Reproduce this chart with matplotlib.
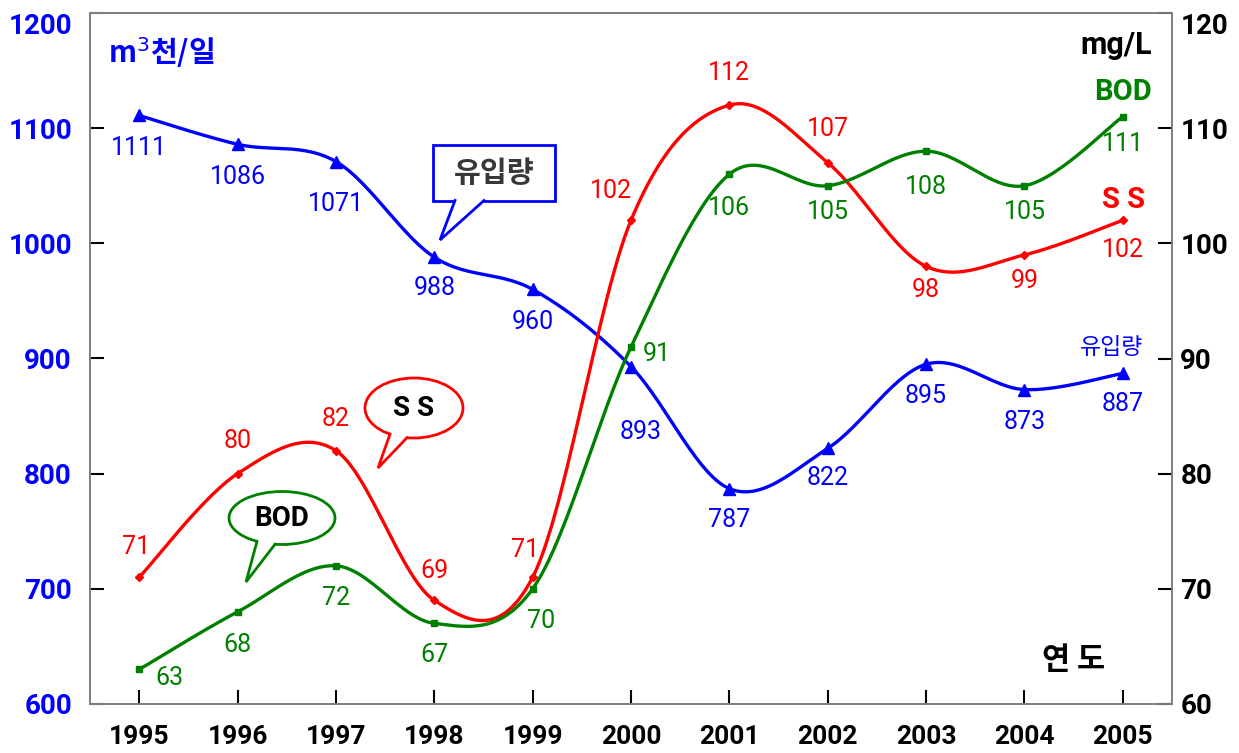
import numpy as np
import matplotlib
matplotlib.use("Agg")
import matplotlib.pyplot as plt
from matplotlib.patches import Ellipse, Polygon, Rectangle

years = ["1995", "1996", "1997", "1998", "1999", "2000", "2001", "2002", "2003", "2004", "2005"]
inflow = [1111, 1086, 1071, 988, 960, 893, 787, 822, 895, 873, 887]
ss = [71, 80, 82, 69, 71, 102, 112, 107, 98, 99, 102]
bod = [63, 68, 72, 67, 70, 91, 106, 105, 108, 105, 111]

# label offsets in pixels (dx, dy)
inflow_off = [(0, -33), (0, -33), (0, -42), (0, -31), (0, -33), (10, -65), (0, -31), (0, -30), (0, -32), (0, -32), (0, -31)]
ss_off = [(-3, 30), (0, 33), (0, 32), (0, 29), (-8, 27), (-20, 29), (0, 32), (0, 34), (0, -24), (0, -26), (0, -30)]
bod_off = [(30, -9), (0, -33), (0, -32), (0, -32), (8, -32), (26, -7), (0, -34), (0, -26), (0, -36), (0, -26), (0, -27)]

NUM = ["Liberation Sans Narrow", "Roboto", "DejaVu Sans"]
KR = ["Noto Sans CJK KR", "DejaVu Sans"]
BLUE, RED, GREEN = "#0000ff", "#ff0000", "#008000"

W, H = 1239, 753


def smooth(y, n=30):
    # Excel-style smoothed line (Catmull-Rom Bezier)
    y = np.asarray(y, float)
    x = np.arange(len(y), dtype=float)
    xs, ys = [], []
    for i in range(len(y) - 1):
        i0, i3 = max(i - 1, 0), min(i + 2, len(y) - 1)
        p0 = np.array([x[i], y[i]])
        p3 = np.array([x[i + 1], y[i + 1]])
        c1 = p0 + (np.array([x[i + 1], y[i + 1]]) - np.array([x[i0], y[i0]])) / 6
        c2 = p3 - (np.array([x[i3], y[i3]]) - np.array([x[i], y[i]])) / 6
        t = np.linspace(0, 1, n)[:, None]
        pts = (1 - t) ** 3 * p0 + 3 * (1 - t) ** 2 * t * c1 + 3 * (1 - t) * t ** 2 * c2 + t ** 3 * p3
        xs.append(pts[:, 0]); ys.append(pts[:, 1])
    return np.concatenate(xs), np.concatenate(ys)


def fp(x, y):
    return (x / W, 1 - y / H)


fig = plt.figure(figsize=(W / 100, H / 100), dpi=100)
ax = fig.add_axes([90 / W, 1 - 704 / H, (1172 - 90) / W, (704 - 13) / H])
ax2 = ax.twinx()

idx = np.arange(len(years))

sx, sy = smooth(inflow)
ax.plot(sx, sy, color=BLUE, lw=2.4, zorder=3)
ax.plot(idx, inflow, "^", color=BLUE, ms=9, zorder=4)

sx, sy = smooth(ss)
ax2.plot(sx, sy, color=RED, lw=2.4, zorder=3)
ax2.plot(idx, ss, "D", color=RED, ms=4, zorder=4)

sx, sy = smooth(bod)
ax2.plot(sx, sy, color=GREEN, lw=2.4, zorder=3)
ax2.plot(idx, bod, "s", color=GREEN, ms=5, zorder=4)

for i, v in enumerate(inflow):
    ax.annotate(str(v), (i, v), xytext=inflow_off[i], textcoords="offset pixels",
                ha="center", va="center", color=BLUE, fontsize=18, family=NUM)
for i, v in enumerate(ss):
    ax2.annotate(str(v), (i, v), xytext=ss_off[i], textcoords="offset pixels",
                 ha="center", va="center", color=RED, fontsize=18, family=NUM)
for i, v in enumerate(bod):
    ax2.annotate(str(v), (i, v), xytext=bod_off[i], textcoords="offset pixels",
                 ha="center", va="center", color=GREEN, fontsize=18, family=NUM)

ax.set_xlim(-0.5, 10.5)
ax.set_ylim(600, 1200)
ax2.set_ylim(60, 120)
ax.set_xticks(idx)
ax.set_xticklabels(years)
ax.set_yticks(range(600, 1201, 100))
ax2.set_yticks(range(60, 121, 10))

ax.tick_params(axis="x", direction="in", length=10, width=1.5, pad=15, labelsize=19)
ax.tick_params(axis="y", direction="in", length=10, width=1.5, pad=13, labelsize=20, labelcolor=BLUE)
ax2.tick_params(axis="y", direction="in", length=10, width=1.5, pad=6, labelsize=20)
for lab in ax.get_xticklabels() + ax.get_yticklabels() + ax2.get_yticklabels():
    lab.set_family(NUM)
    lab.set_fontweight("bold")
ax.get_yticklabels()[-1].set_va("top")
ax2.get_yticklabels()[-1].set_va("top")
for a in (ax, ax2):
    for s in a.spines.values():
        s.set_color("#808080")
        s.set_linewidth(1.3)

# unit labels
fig.text(*fp(108, 53), "m$^3$천/일", color=BLUE, fontsize=21, fontweight="bold",
         family=KR, ha="left", va="center")
fig.text(*fp(1152, 45), "mg/L", color="black", fontsize=22, fontweight="bold",
         family=NUM, ha="right", va="center")
fig.text(*fp(1074, 660), "연 도", color="black", fontsize=22, fontweight="bold",
         family=KR, ha="center", va="center")

# series names at right
fig.text(*fp(1123, 92), "BOD", color=GREEN, fontsize=21, fontweight="bold", family=NUM, ha="center", va="center")
fig.text(*fp(1123, 200), "S S", color=RED, fontsize=21, fontweight="bold", family=NUM, ha="center", va="center")
fig.text(*fp(1112, 348), "유입량", color=BLUE, fontsize=16.5, family=KR, ha="center", va="center")


# callout bubbles
def bubble(cx, cy, w, h, bx1, bx2, tip, color, text, rect=False, txtcolor="black",
           fam=NUM, weight="bold", size=21):
    if rect:
        shape = Rectangle(fp(cx - w / 2, cy + h / 2), w / W, h / H, transform=fig.transFigure,
                          facecolor="white", edgecolor=color, lw=2, zorder=5)
        y1 = y2 = cy + h / 2
    else:
        shape = Ellipse(fp(cx, cy), w / W, h / H, transform=fig.transFigure,
                        facecolor="white", edgecolor=color, lw=2, zorder=5)
        a, b = w / 2, h / 2
        y1 = cy + b * np.sqrt(1 - ((bx1 - cx) / a) ** 2)
        y2 = cy + b * np.sqrt(1 - ((bx2 - cx) / a) ** 2)
    fig.add_artist(shape)
    b1, b2 = (bx1, y1), (bx2, y2)
    fig.add_artist(Polygon([fp(bx1 + 1, y1 - 5), fp(*b1), fp(*tip), fp(*b2), fp(bx2 - 1, y2 - 5)],
                           closed=True, transform=fig.transFigure,
                           facecolor="white", edgecolor="none", zorder=6))
    fig.add_artist(plt.Line2D([fp(*b1)[0], fp(*tip)[0], fp(*b2)[0]],
                              [fp(*b1)[1], fp(*tip)[1], fp(*b2)[1]],
                              transform=fig.transFigure, color=color, lw=2, zorder=7,
                              solid_joinstyle="miter"))
    fig.text(*fp(cx, cy), text, color=txtcolor, fontsize=size, fontweight=weight,
             family=fam, ha="center", va="center", zorder=8)


bubble(494, 173, 122, 55, 455, 484, (440, 240), BLUE, "유입량", rect=True,
       txtcolor="#383838", fam=KR, weight="bold", size=21)
bubble(414, 408, 98, 60, 390, 407, (378, 468), RED, "S S", size=20)
bubble(282, 518, 106, 53, 257, 275, (246, 582), GREEN, "BOD", size=20)

fig.savefig("out.png", dpi=100)
